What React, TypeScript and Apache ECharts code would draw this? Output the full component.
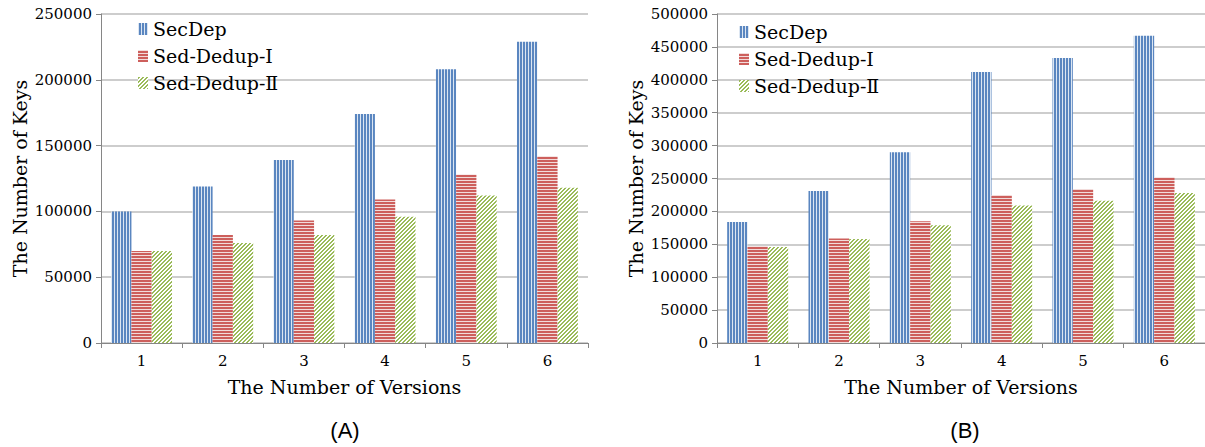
import React, { useEffect, useRef } from 'react';
import * as echarts from 'echarts';

const versions = ['1', '2', '3', '4', '5', '6'];
const seriesNames = ['SecDep', 'Sed-Dedup-Ⅰ', 'Sed-Dedup-Ⅱ'];

const secDepA = [100000, 119000, 139000, 174000, 208000, 229000];
const dedup1A = [70000, 82000, 93000, 109000, 128000, 142000];
const dedup2A = [70000, 76000, 82000, 96000, 112000, 118000];

const secDepB = [184000, 231000, 290000, 412000, 433000, 467000];
const dedup1B = [147000, 159000, 185000, 225000, 234000, 252000];
const dedup2B = [146000, 158000, 179000, 209000, 216000, 228000];

const yMaxA = 250000;
const yMaxB = 500000;
const yStep = 50000;

const xAxisTitle = 'The Number of Versions';
const yAxisTitle = 'The Number of Keys';
const panelLabels = ['(A)', '(B)'];

const FONT = "'DejaVu Serif', 'Liberation Serif', 'Noto Sans CJK SC', serif";

function makePattern(kind: 'v' | 'h' | 'd') {
  const c = document.createElement('canvas');
  const ctx = c.getContext('2d')!;
  if (kind === 'v') {
    c.width = 3; c.height = 2;
    ctx.fillStyle = '#dce6f2'; ctx.fillRect(0, 0, 3, 2);
    ctx.fillStyle = '#5a86c0'; ctx.fillRect(1, 0, 2, 2);
  } else if (kind === 'h') {
    c.width = 2; c.height = 3;
    ctx.fillStyle = '#f2dcdb'; ctx.fillRect(0, 0, 2, 3);
    ctx.fillStyle = '#cd5f5c'; ctx.fillRect(0, 1, 2, 2);
  } else {
    c.width = 8; c.height = 8;
    ctx.fillStyle = '#ffffff'; ctx.fillRect(0, 0, 8, 8);
    ctx.fillStyle = '#9bbb59';
    for (let x = 0; x < 8; x++) {
      for (let y = 0; y < 8; y++) {
        if ((x + y) % 4 < 2) ctx.fillRect(x, y, 1, 1);
      }
    }
  }
  return { image: c.toDataURL(), repeat: 'repeat', imageWidth: c.width, imageHeight: c.height } as any;
}

export default function App() {
  const ref = useRef<HTMLDivElement>(null);
  useEffect(() => {
    if (!ref.current) return;
    const chart = echarts.init(ref.current, null, { renderer: 'svg' });
    const patterns = [makePattern('v'), makePattern('h'), makePattern('d')];
    const grids = [
      { left: 101, top: 14, width: 487, height: 329 },
      { left: 717, top: 14, width: 488, height: 329 },
    ];
    const dataSets = [
      [secDepA, dedup1A, dedup2A],
      [secDepB, dedup1B, dedup2B],
    ];
    const maxes = [yMaxA, yMaxB];

    const xAxes = grids.map((_, i) => ({
      type: 'category',
      gridIndex: i,
      data: versions,
      name: xAxisTitle,
      nameLocation: 'middle',
      nameGap: 34,
      nameTextStyle: { fontFamily: FONT, fontSize: 19, color: '#000' },
      axisLine: { lineStyle: { color: '#868686', width: 1 } },
      axisTick: { show: true, length: 5, lineStyle: { color: '#868686' } },
      axisLabel: { fontFamily: FONT, fontSize: 15, color: '#000', margin: 10 },
      splitLine: { show: false },
    }));
    const yAxes = grids.map((_, i) => ({
      type: 'value',
      gridIndex: i,
      min: 0,
      max: maxes[i],
      interval: yStep,
      name: yAxisTitle,
      nameLocation: 'middle',
      nameGap: 72,
      nameTextStyle: { fontFamily: FONT, fontSize: 19, color: '#000' },
      axisLine: { show: true, lineStyle: { color: '#868686', width: 1 } },
      axisTick: { show: true, length: 5, lineStyle: { color: '#868686' } },
      axisLabel: { fontFamily: FONT, fontSize: 15, color: '#000', margin: 9, formatter: (v: number) => String(v) },
      splitLine: { show: true, lineStyle: { color: '#bdbdbd', width: 1.5 } },
    }));
    const series: any[] = [];
    dataSets.forEach((set, gi) => {
      set.forEach((vals, si) => {
        series.push({
          type: 'bar',
          name: seriesNames[si],
          xAxisIndex: gi,
          yAxisIndex: gi,
          data: vals,
          barGap: '0%',
          barCategoryGap: '25%',
          itemStyle: { color: patterns[si] },
          emphasis: { disabled: true },
        });
      });
    });
    const legendBase = {
      orient: 'vertical',
      itemWidth: 10,
      itemHeight: 12,
      itemGap: 7,
      padding: 0,
      selectedMode: false,
      data: seriesNames,
      icon: 'rect',
      textStyle: { fontFamily: FONT, fontSize: 19, lineHeight: 20, color: '#000' },
    };
    chart.setOption({
      animation: false,
      backgroundColor: '#ffffff',
      grid: grids,
      xAxis: xAxes,
      yAxis: yAxes,
      series,
      legend: [
        { ...legendBase, left: 138, top: 19 },
        { ...legendBase, left: 739, top: 22 },
      ],
      graphic: [
        { type: 'text', x: 345, y: 430, style: { text: panelLabels[0], font: "22px 'Liberation Sans', Arial, sans-serif", fill: '#000', textAlign: 'center', textVerticalAlign: 'middle' } },
        { type: 'text', x: 965, y: 430, style: { text: panelLabels[1], font: "22px 'Liberation Sans', Arial, sans-serif", fill: '#000', textAlign: 'center', textVerticalAlign: 'middle' } },
      ],
    });
    return () => chart.dispose();
  }, []);
  return <div ref={ref} style={{ position: 'absolute', left: 0, top: 0, width: 1205, height: 447 }} />;
}
